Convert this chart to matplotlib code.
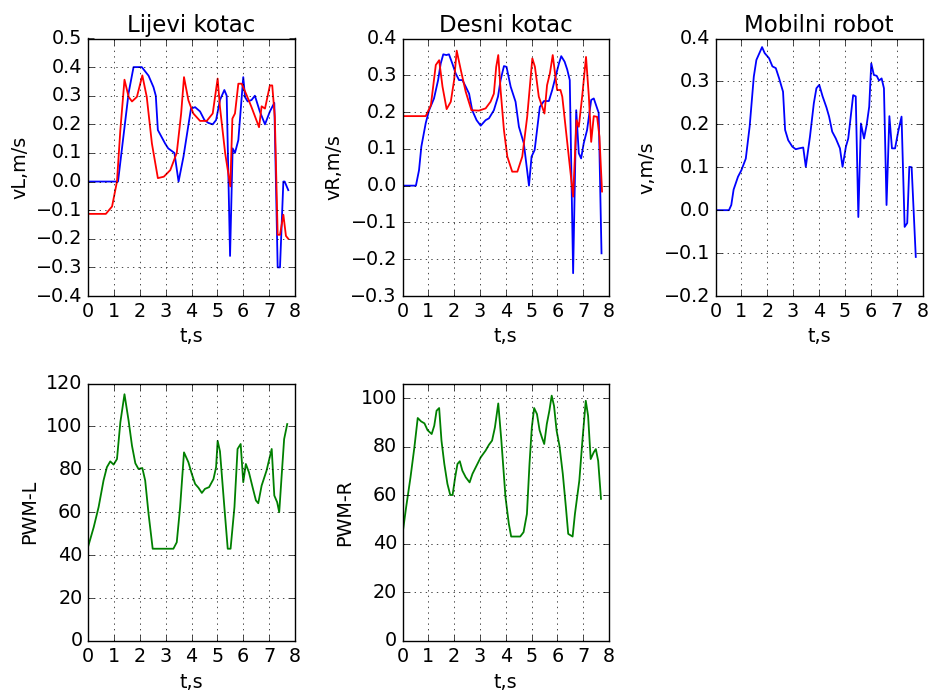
import numpy as np
import matplotlib.pyplot as plt

# Lijevi kotac - plava
tL_b = [0, 1.16, 1.57, 1.76, 2.08, 2.34, 2.53, 2.62, 2.7, 2.98, 3.1, 3.34, 3.5, 3.69, 3.98, 4.14,
        4.33, 4.5, 4.65, 4.82, 4.95, 5.1, 5.27, 5.36, 5.49, 5.59, 5.68, 5.81, 6.0, 6.07, 6.17, 6.32,
        6.45, 6.64, 6.84, 7.03, 7.2, 7.33, 7.42, 7.55, 7.6, 7.74]
vL_b = [0, 0, 0.31, 0.40, 0.40, 0.37, 0.33, 0.30, 0.18, 0.133, 0.116, 0.10, 0.0, 0.087, 0.255, 0.26,
        0.245, 0.215, 0.205, 0.20, 0.215, 0.285, 0.32, 0.30, -0.26, 0.116, 0.10, 0.145, 0.365, 0.295, 0.28, 0.285,
        0.30, 0.245, 0.20, 0.245, 0.275, -0.30, -0.30, 0.0, 0.0, -0.03]
# Lijevi kotac - crvena
tL_r = [0, 0.69, 0.93, 1.12, 1.25, 1.41, 1.57, 1.7, 1.89, 2.1, 2.27, 2.47, 2.7, 2.93, 3.18, 3.43,
        3.6, 3.71, 3.88, 4.07, 4.33, 4.59, 4.82, 5.01, 5.1, 5.3, 5.5, 5.58, 5.68, 5.81, 5.94, 6.14,
        6.32, 6.61, 6.71, 6.84, 7.03, 7.12, 7.22, 7.33, 7.42, 7.55, 7.65, 7.74]
vL_r = [-0.113, -0.113, -0.087, 0.0, 0.18, 0.356, 0.296, 0.28, 0.296, 0.371, 0.296, 0.133, 0.012, 0.017, 0.04, 0.10,
        0.238, 0.365, 0.284, 0.238, 0.212, 0.212, 0.238, 0.36, 0.26, 0.10, -0.017, 0.22, 0.238, 0.342, 0.342, 0.30,
        0.26, 0.19, 0.263, 0.255, 0.336, 0.336, 0.226, -0.186, -0.186, -0.116, -0.19, -0.20]

# Desni kotac - plava
tR_b = [0, 0.52, 0.64, 0.73, 0.9, 1.03, 1.22, 1.38, 1.48, 1.58, 1.7, 1.8, 1.93, 2.06, 2.19, 2.32,
        2.45, 2.58, 2.7, 2.87, 3.03, 3.22, 3.35, 3.54, 3.7, 3.8, 3.93, 4.03, 4.19, 4.38, 4.51, 4.7,
        4.9, 5.0, 5.12, 5.32, 5.48, 5.67, 5.8, 6.06, 6.15, 6.28, 6.38, 6.48, 6.61, 6.73, 6.83, 6.92,
        7.02, 7.15, 7.31, 7.41, 7.6, 7.71]
vR_b = [0, 0, 0.042, 0.106, 0.17, 0.205, 0.237, 0.287, 0.332, 0.357, 0.355, 0.357, 0.332, 0.305, 0.287, 0.287,
        0.269, 0.25, 0.205, 0.178, 0.163, 0.178, 0.183, 0.205, 0.242, 0.287, 0.325, 0.323, 0.269, 0.228, 0.16, 0.115,
        0.0, 0.079, 0.097, 0.214, 0.23, 0.23, 0.26, 0.332, 0.352, 0.337, 0.316, 0.287, -0.238, 0.205, 0.088, 0.074,
        0.115, 0.151, 0.233, 0.237, 0.198, -0.184]
# Desni kotac - crvena
tR_r = [0, 0.9, 1.1, 1.29, 1.42, 1.55, 1.71, 1.87, 2.0, 2.1, 2.26, 2.45, 2.67, 2.96, 3.22, 3.41,
        3.54, 3.63, 3.71, 3.8, 3.93, 4.06, 4.25, 4.45, 4.64, 4.83, 5.03, 5.13, 5.28, 5.5, 5.6, 5.71,
        5.82, 5.99, 6.12, 6.19, 6.61, 6.74, 6.83, 6.96, 7.11, 7.22, 7.31, 7.41, 7.54, 7.63, 7.73]
vR_r = [0.189, 0.189, 0.219, 0.328, 0.341, 0.269, 0.208, 0.228, 0.287, 0.367, 0.314, 0.255, 0.205, 0.204, 0.21, 0.228,
        0.25, 0.323, 0.355, 0.26, 0.151, 0.079, 0.038, 0.038, 0.079, 0.187, 0.346, 0.323, 0.242, 0.196, 0.273, 0.305,
        0.355, 0.26, 0.26, 0.242, -0.03, 0.178, 0.16, 0.242, 0.35, 0.242, 0.119, 0.189, 0.187, 0.133, -0.016]

# Mobilni robot
t_v = [0, 0.52, 0.61, 0.7, 0.87, 1.0, 1.17, 1.32, 1.48, 1.58, 1.8, 1.9, 2.07, 2.2, 2.33, 2.46,
       2.61, 2.69, 2.81, 2.97, 3.1, 3.23, 3.39, 3.49, 3.65, 3.8, 3.9, 4.01, 4.14, 4.29, 4.39, 4.51,
       4.65, 4.81, 4.91, 5.04, 5.13, 5.32, 5.42, 5.52, 5.62, 5.74, 5.84, 5.94, 6.02, 6.12, 6.23, 6.32,
       6.42, 6.51, 6.61, 6.72, 6.82, 6.94, 7.06, 7.19, 7.31, 7.41, 7.49, 7.58, 7.74]
v = [0, 0, 0.012, 0.048, 0.078, 0.093, 0.12, 0.195, 0.311, 0.35, 0.38, 0.366, 0.354, 0.335, 0.331, 0.307,
     0.276, 0.187, 0.163, 0.148, 0.142, 0.144, 0.146, 0.101, 0.171, 0.249, 0.284, 0.292, 0.265, 0.239, 0.218, 0.183,
     0.167, 0.144, 0.101, 0.148, 0.167, 0.268, 0.265, -0.016, 0.202, 0.167, 0.198, 0.241, 0.342, 0.315, 0.313, 0.302,
     0.307, 0.284, 0.012, 0.219, 0.144, 0.144, 0.183, 0.218, -0.039, -0.03, 0.101, 0.10, -0.109]

# PWM lijevi
t_pL = [0, 0.22, 0.41, 0.6, 0.73, 0.86, 0.99, 1.12, 1.25, 1.41, 1.57, 1.7, 1.83, 1.95, 2.1, 2.21,
        2.34, 2.5, 3.3, 3.43, 3.56, 3.71, 3.88, 4.01, 4.14, 4.27, 4.4, 4.52, 4.68, 4.85, 4.95, 5.01,
        5.1, 5.27, 5.4, 5.51, 5.66, 5.78, 5.9, 6.0, 6.1, 6.22, 6.36, 6.49, 6.58, 6.71, 6.9, 7.1,
        7.2, 7.31, 7.39, 7.48, 7.58, 7.7]
pwmL = [43.8, 53, 62.4, 74.8, 81, 83.7, 82.2, 84.8, 101.9, 115, 102.6, 91, 82.8, 80.2, 80.6, 74.8,
        59.3, 43, 43, 46, 62.4, 87.9, 83.3, 77.9, 73.2, 71.4, 69, 70.9, 71.7, 75.5, 81, 93.3,
        88.4, 62.4, 43, 43, 62.4, 89.5, 91.8, 74, 82.5, 78.6, 71.7, 65.5, 64.2, 72.4, 79.4, 89.5,
        67.8, 64.7, 60, 76.3, 94.1, 101.1]

# PWM desni
t_pR = [0, 0.14, 0.31, 0.46, 0.59, 0.72, 0.85, 0.97, 1.13, 1.23, 1.32, 1.42, 1.51, 1.62, 1.74, 1.85,
        1.94, 2.04, 2.13, 2.22, 2.32, 2.45, 2.6, 2.71, 2.87, 3.03, 3.22, 3.35, 3.47, 3.58, 3.71, 3.83,
        3.99, 4.12, 4.21, 4.56, 4.69, 4.82, 4.92, 5.01, 5.1, 5.21, 5.31, 5.4, 5.49, 5.59, 5.69, 5.78,
        5.87, 5.97, 6.08, 6.21, 6.33, 6.42, 6.59, 6.68, 6.85, 6.97, 7.1, 7.19, 7.29, 7.41, 7.49, 7.58,
        7.69]
pwmR = [44, 55, 67.4, 79.7, 91.8, 90.4, 89.6, 86.8, 85.2, 88.6, 94.8, 95.9, 82.5, 72.9, 64.7, 60.1,
        60.1, 67.4, 72.9, 74, 70.1, 67.4, 65.3, 68.8, 72.2, 75.6, 78.4, 80.8, 82.5, 87.9, 97.8, 82.5,
        59.2, 48.2, 43, 43, 44.8, 52.3, 72.9, 87.9, 95.9, 93.4, 86.8, 83.8, 81.1, 89.3, 94.8, 101,
        96.8, 86.6, 80.4, 68.8, 55.1, 44.1, 43, 52.3, 66, 82.5, 98.9, 92.7, 74.9, 77.7, 79, 74.2,
        58.5]

plt.style.use('classic')
plt.rcParams['figure.facecolor'] = 'white'
plt.rcParams['savefig.facecolor'] = 'white'
plt.rcParams['font.size'] = 13.8
plt.rcParams['xtick.labelsize'] = 13.8
plt.rcParams['ytick.labelsize'] = 13.8
plt.rcParams['axes.labelsize'] = 13.8
plt.rcParams['axes.titlesize'] = 16.5
plt.rcParams['lines.linewidth'] = 1.3

W, H = 932, 692
fig = plt.figure(figsize=(W / 100, H / 100), dpi=100)

def rect(left, top, right, bottom):
    return [left / W, 1 - bottom / H, (right - left) / W, (bottom - top) / H]

ax1 = fig.add_axes(rect(88, 38.5, 295, 296))
ax1.plot(tL_b, vL_b, 'b-')
ax1.plot(tL_r, vL_r, 'r-')
ax1.set_ylim(-0.4, 0.5)
ax1.set_ylabel("vL,m/s")
ax1.set_title("Lijevi kotac")

ax2 = fig.add_axes(rect(402.5, 38.5, 609, 296))
ax2.plot(tR_b, vR_b, 'b-')
ax2.plot(tR_r, vR_r, 'r-')
ax2.set_ylim(-0.3, 0.4)
ax2.set_ylabel("vR,m/s")
ax2.set_title("Desni kotac")

ax3 = fig.add_axes(rect(715.5, 38.5, 922.5, 296))
ax3.plot(t_v, v, 'b-')
ax3.set_ylim(-0.2, 0.4)
ax3.set_ylabel("v,m/s")
ax3.set_title("Mobilni robot")

ax4 = fig.add_axes(rect(88, 383.5, 295, 641))
ax4.plot(t_pL, pwmL, 'g-')
ax4.set_ylim(0, 120)
ax4.set_ylabel("PWM-L")

ax5 = fig.add_axes(rect(402.5, 383.5, 609, 641))
ax5.plot(t_pR, pwmR, 'g-')
ax5.set_ylim(0, 106)
ax5.set_yticks([0, 20, 40, 60, 80, 100])
ax5.set_ylabel("PWM-R")

for ax in [ax1, ax2, ax3, ax4, ax5]:
    ax.set_xlim(0, 8)
    ax.set_xticks(range(9))
    ax.set_xlabel("t,s")
    ax.grid(True)

fig.savefig("out.png", dpi=100)
